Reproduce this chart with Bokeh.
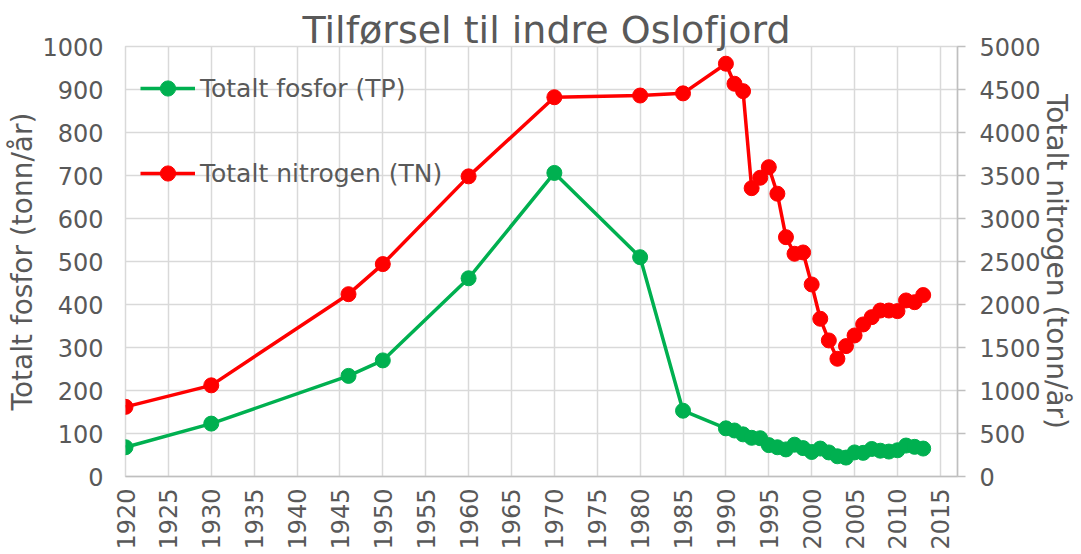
import math
from bokeh.plotting import figure
from bokeh.models import (Range1d, LinearAxis, SingleIntervalTicker, Legend, LegendItem)
from bokeh.embed import file_html
from bokeh.resources import INLINE

title_text = "Tilførsel til indre Oslofjord"
tp_label = "Totalt fosfor (TP)"
tn_label = "Totalt nitrogen (TN)"
left_title = "Totalt fosfor (tonn/år)"
right_title = "Totalt nitrogen (tonn/år)"

years = [1920, 1930, 1946, 1950, 1960, 1970, 1980, 1985, 1990, 1991, 1992, 1993,
         1994, 1995, 1996, 1997, 1998, 1999, 2000, 2001, 2002, 2003, 2004, 2005,
         2006, 2007, 2008, 2009, 2010, 2011, 2012, 2013]
tp = [68, 123, 234, 270, 461, 706, 510, 153, 112, 107, 98, 90,
      89, 73, 68, 63, 74, 66, 57, 65, 56, 47, 44, 56,
      55, 64, 60, 58, 61, 72, 69, 65]
tn = [810, 1060, 2120, 2470, 3490, 4410, 4430, 4455, 4800, 4567, 4481, 3353,
      3474, 3597, 3288, 2783, 2590, 2605, 2233, 1834, 1582, 1369, 1516, 1640,
      1768, 1853, 1930, 1930, 1923, 2047, 2027, 2110]

TEXT = "#595959"
GRID = "#D9D9D9"
AXIS = "#BFBFBF"
GREEN = "#00B050"
RED = "#FF0000"
FONT = "DejaVu Sans"

p = figure(width=1081, height=554, output_backend="svg", toolbar_location=None,
           x_range=Range1d(1920, 2017), y_range=Range1d(0, 1000),
           min_border_left=125, min_border_right=124, min_border_top=46,
           min_border_bottom=78)
p.outline_line_color = GRID
p.outline_line_width = 1.5
p.background_fill_color = "white"
p.border_fill_color = "white"

p.title.text = title_text
p.title.text_font = FONT
p.title.text_font_size = "38px"
p.title.text_font_style = "normal"
p.title.text_color = TEXT
p.title.align = "left"
p.title.vertical_align = "top"
p.title.offset = 177
p.title.standoff = -15

p.extra_y_ranges = {"tn": Range1d(0, 5000)}

# x axis
xa = p.xaxis[0]
xa.ticker = SingleIntervalTicker(interval=5)
xa.major_label_orientation = math.pi / 2
xa.major_tick_out = 0
xa.major_tick_in = 0
xa.minor_tick_out = 0
xa.minor_tick_in = 0
xa.major_label_standoff = 12
xa.axis_label_standoff = 0
xa.major_label_text_font = FONT
xa.major_label_text_font_size = "24px"
xa.major_label_text_color = TEXT
xa.axis_line_color = AXIS
xa.axis_line_width = 1.5

# left axis
ya = p.yaxis[0]
ya.ticker = SingleIntervalTicker(interval=100)
ya.major_tick_out = 0
ya.major_tick_in = 0
ya.minor_tick_out = 0
ya.minor_tick_in = 0
ya.axis_line_color = None
ya.major_label_standoff = 22
ya.major_label_text_font = FONT
ya.major_label_text_font_size = "24px"
ya.major_label_text_color = TEXT
ya.axis_label = left_title
ya.axis_label_text_font = FONT
ya.axis_label_text_font_size = "28px"
ya.axis_label_text_font_style = "normal"
ya.axis_label_text_color = TEXT
ya.axis_label_standoff = 0

# right axis
ra = LinearAxis(y_range_name="tn", ticker=SingleIntervalTicker(interval=500))
ra.major_tick_out = 8
ra.major_tick_in = 0
ra.minor_tick_out = 0
ra.minor_tick_in = 0
ra.major_tick_line_color = AXIS
ra.major_tick_line_width = 1.5
ra.axis_line_color = AXIS
ra.axis_line_width = 1.5
ra.major_label_standoff = 14
ra.major_label_text_font = FONT
ra.major_label_text_font_size = "24px"
ra.major_label_text_color = TEXT
ra.axis_label = right_title
ra.axis_label_text_font = FONT
ra.axis_label_text_font_size = "28px"
ra.axis_label_text_font_style = "normal"
ra.axis_label_text_color = TEXT
ra.axis_label_standoff = -4
p.add_layout(ra, "right")

p.xgrid.ticker = SingleIntervalTicker(interval=5)
p.ygrid.ticker = SingleIntervalTicker(interval=100)
p.xgrid.grid_line_color = GRID
p.ygrid.grid_line_color = GRID
p.xgrid.grid_line_width = 1.5
p.ygrid.grid_line_width = 1.5

# data
l_tp = p.line(years, tp, line_color=GREEN, line_width=3.5)
s_tp = p.scatter(years, tp, size=15, fill_color=GREEN, line_color=GREEN)
l_tn = p.line(years, tn, line_color=RED, line_width=3.5, y_range_name="tn")
s_tn = p.scatter(years, tn, size=15, fill_color=RED, line_color=RED, y_range_name="tn")

legend = Legend(items=[LegendItem(label=tp_label, renderers=[l_tp, s_tp]),
                       LegendItem(label=tn_label, renderers=[l_tn, s_tn])],
                location=(15, 284), orientation="vertical",
                glyph_width=55, glyph_height=38, label_height=38,
                label_standoff=5, spacing=47, padding=0, margin=0,
                border_line_color=None, background_fill_alpha=0,
                label_text_font=FONT, label_text_font_size="25px",
                label_text_color=TEXT)
p.add_layout(legend, "center")

open("out.html", "w").write(file_html(p, INLINE))
